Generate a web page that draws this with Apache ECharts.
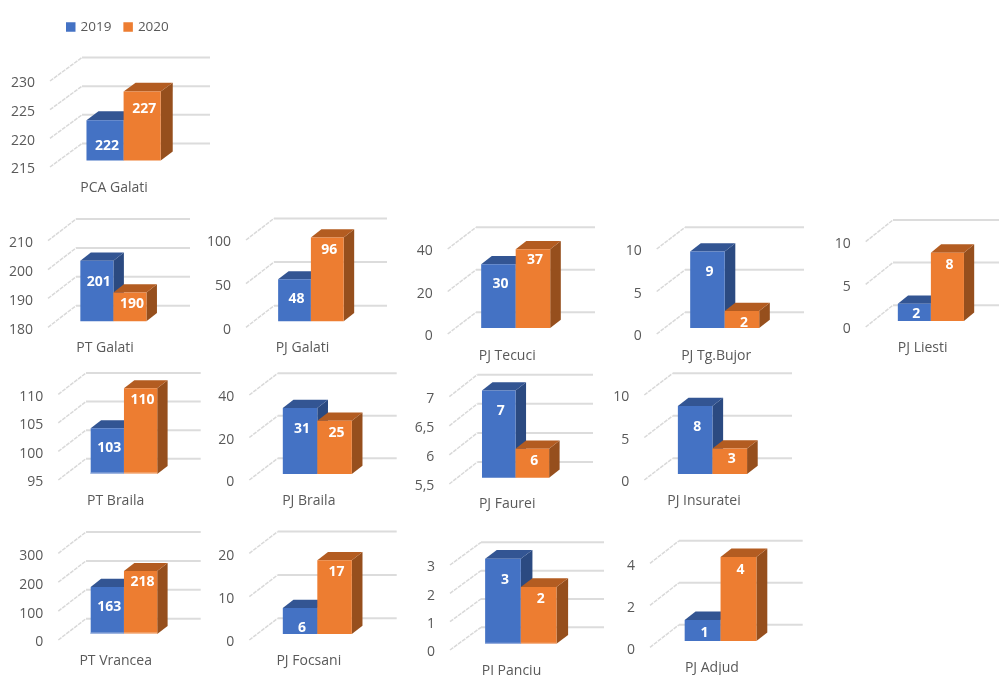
<!DOCTYPE html>
<html>
<head>
<meta charset="utf-8">
<style>html,body{margin:0;padding:0;background:#fff}#c{width:999px;height:675px}</style>
<script src="https://cdn.jsdelivr.net/npm/echarts@6/dist/echarts.min.js"></script>
</head>
<body>
<div id="c"></div>
<script>
// ---- data ----
const categories = ['PCA Galati','PT Galati','PJ Galati','PJ Tecuci','PJ Tg.Bujor','PJ Liesti','PT Braila','PJ Braila','PJ Faurei','PJ Insuratei','PT Vrancea','PJ Focsani','PJ Panciu','PJ Adjud'];
const values2019 = [222,201,48,30,9,2,103,31,7,8,163,6,3,1];
const values2020 = [227,190,96,37,2,8,110,25,6,3,218,17,2,4];
const axisMin  = [215,180,0,0,0,0,95,0,5.5,0,0,0,0,0];
const axisMax  = [230,210,100,40,10,10,110,40,7,10,300,20,3,4];
const axisStep = [5,10,50,20,5,5,5,20,0.5,5,100,10,1,2];

// ---- layout (separate from data) ----
const panelLeft   = [50,48,246,447.7,656.7,865.7,58.3,249.3,449.3,644.3,58.3,249.3,450,650];
const panelTop    = [81,240.7,240,249,249,241.7,394.3,395,396.7,395,553.3,553.3,565,563.3];
const panelBottom = [167,327.3,327.3,334,334,327,480,480,484,480,640,640,650,647.3];
const panelWidth  = [128,114,113,119,119,114,114.7,119,115.7,119.3,114.7,119,123,123.7];
const depthX      = [32,28,28,28.3,28.3,27.3,27.7,28.4,28,28.4,27.7,28.4,31,29];
const depthY      = [23.5,21.6,21.6,21.7,21.7,21.8,21.3,21.7,22,21.7,21.3,21.7,22.7,22.5];
const labelDrop2019 = [26,21,20,20,21,10,20,21,20,21,20,20,21,13];
const labelDrop2020 = [17.5,12,13,11,12,12,12,12,12,11,11,12,12,13];
const baseStrip   = [0,0,0,0,0,0,1.6,0,0,0,1.6,0,1,0];
const nameMargin  = [14,14,14,15,15,14,14,14,13,14,14,14,14,14];

const palette = {
  2019: {front:'#4472c4', top:'#335593', side:'#2b4a81', strip:'#9fb5e0'},
  2020: {front:'#ed7d31', top:'#b35c21', side:'#964f1d', strip:'#f6bd96'}
};
const FONT = '"Open Sans", sans-serif';

function wallRender(p) {
  return function (params, api) {
    const pt = api.coord([0, api.value(1)]);
    const w = api.size([1, 0])[0];
    const x0 = pt[0] - w / 2, y0 = pt[1];
    const bx = x0 + depthX[p], by = y0 - depthY[p];
    return {type:'group', silent:true, children:[
      {type:'line', shape:{x1:x0,y1:y0,x2:bx,y2:by}, style:{stroke:'#d9d9d9',lineWidth:1.5,lineDash:[4,1]}},
      {type:'line', shape:{x1:bx,y1:by,x2:bx+w,y2:by}, style:{stroke:'#dcdcdc',lineWidth:2}}
    ]};
  };
}

function barRender(p, year, idx, drop) {
  const c = palette[year];
  return function (params, api) {
    const val = api.value(1);
    const t = api.coord([0, val]);
    const b = api.coord([0, axisMin[p]]);
    const w = api.size([1, 0])[0];
    const bw = 0.29 * w;
    const oy = 0.28 * depthY[p];
    const cx = t[0] + 0.3 * depthX[p];
    const l = cx + (idx === 0 ? -bw : 0), r = l + bw;
    const yt = t[1] - oy, yb = b[1] - oy;
    const dx = 0.375 * depthX[p], dy = 0.38 * depthY[p];
    const kids = [
      {type:'polygon', shape:{points:[[r,yt],[r+dx,yt-dy],[r+dx,yb-dy],[r,yb]]}, style:{fill:c.side}},
      {type:'polygon', shape:{points:[[l,yt],[l+dx,yt-dy],[r+dx,yt-dy],[r,yt]]}, style:{fill:c.top}},
      {type:'rect', shape:{x:l,y:yt,width:bw,height:yb-yt}, style:{fill:c.front}}
    ];
    if (baseStrip[p] > 0) {
      kids.push({type:'rect', shape:{x:l,y:yb-baseStrip[p],width:bw,height:baseStrip[p]}, style:{fill:c.strip}});
    }
    kids.push({type:'text', style:{text:String(val), x:(l+r)/2+2, y:yt+drop, fill:'#ffffff', font:'bold 14px '+FONT, align:'center', verticalAlign:'middle'}});
    return {type:'group', silent:true, children:kids};
  };
}

const grid = [], xAxis = [], yAxis = [], series = [];
categories.forEach(function (name, p) {
  grid.push({left:panelLeft[p], top:panelTop[p], width:panelWidth[p], height:panelBottom[p]-panelTop[p], containLabel:false, outerBoundsMode:'none'});
  xAxis.push({type:'category', gridIndex:p, data:[name], axisLine:{show:false}, axisTick:{show:false}, splitLine:{show:false},
    axisLabel:{show:true, interval:0, margin:nameMargin[p], color:'#595959', fontFamily:FONT, fontSize:14}});
  yAxis.push({type:'value', gridIndex:p, min:axisMin[p], max:axisMax[p], interval:axisStep[p], axisLine:{show:false}, axisTick:{show:false}, splitLine:{show:false},
    axisLabel:{margin:15, verticalAlign:'top', lineHeight:5, color:'#595959', fontFamily:FONT, fontSize:14, formatter:function(v){return String(v).replace('.',',');}}});
  const ticks = [];
  for (let v = axisMin[p]; v <= axisMax[p] + 1e-9; v += axisStep[p]) ticks.push([0, v]);
  series.push({type:'custom', name:'walls', xAxisIndex:p, yAxisIndex:p, z:1, silent:true, renderItem:wallRender(p), data:ticks, encode:{x:0,y:1}});
  series.push({type:'custom', name:'2019', xAxisIndex:p, yAxisIndex:p, z:2, silent:true, itemStyle:{color:palette[2019].front},
    renderItem:barRender(p,2019,0,labelDrop2019[p]), data:[[0,values2019[p]]], encode:{x:0,y:1}});
  series.push({type:'custom', name:'2020', xAxisIndex:p, yAxisIndex:p, z:3, silent:true, itemStyle:{color:palette[2020].front},
    renderItem:barRender(p,2020,1,labelDrop2020[p]), data:[[0,values2020[p]]], encode:{x:0,y:1}});
});

const chart = echarts.init(document.getElementById('c'), null, {renderer:'canvas', width:999, height:675});
chart.setOption({
  animation:false,
  backgroundColor:'#ffffff',
  legend:{data:['2019','2020'], left:61, top:15, itemWidth:9.5, itemHeight:9.5, itemGap:12, itemStyle:{borderWidth:0}, icon:'rect', selectedMode:false,
    textStyle:{color:'#595959', fontFamily:FONT, fontSize:13.5}},
  grid:grid, xAxis:xAxis, yAxis:yAxis, series:series
});
</script>
</body>
</html>
